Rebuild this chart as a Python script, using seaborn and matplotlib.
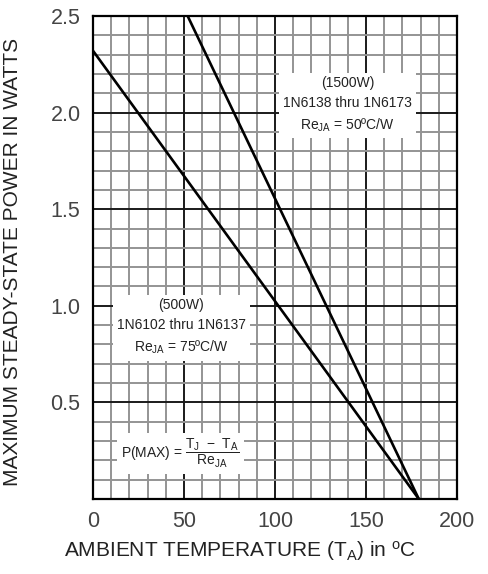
import numpy as np
import pandas as pd
import seaborn as sns
import matplotlib.pyplot as plt
from matplotlib.ticker import MultipleLocator

# values
temp_500w = [0, 179]
power_500w = [2.32, 0.0]
temp_1500w = [52, 179]
power_1500w = [2.5, 0.0]

x_ticks = [0, 50, 100, 150, 200]
y_ticks = [0.5, 1.0, 1.5, 2.0, 2.5]
y_tick_labels = ['0.5', '1.0', '1.5', '2.0', '2.5']

df = pd.concat([
    pd.DataFrame({'temp': temp_500w, 'power': power_500w, 'series': '500W'}),
    pd.DataFrame({'temp': temp_1500w, 'power': power_1500w, 'series': '1500W'}),
])

sns.set_style('white')
plt.rcParams['font.family'] = ['Liberation Sans', 'DejaVu Sans']
plt.rcParams['mathtext.fontset'] = 'custom'
plt.rcParams['mathtext.rm'] = 'Liberation Sans'
plt.rcParams['mathtext.default'] = 'regular'

fig = plt.figure(figsize=(4.88, 5.74), dpi=100)
ax = fig.add_axes([0.1906, 0.1307, 0.7459, 0.8414])

sns.lineplot(data=df, x='temp', y='power', units='series', estimator=None,
             color='black', lw=1.9, ax=ax, legend=False, zorder=3)

ax.set_xlim(0, 200)
ax.set_ylim(0, 2.5)
ax.set_xticks(x_ticks)
ax.set_yticks(y_ticks)
ax.set_yticklabels(y_tick_labels)
ax.xaxis.set_minor_locator(MultipleLocator(10))
ax.yaxis.set_minor_locator(MultipleLocator(0.1))
ax.grid(which='minor', color='#949494', lw=1.4)
ax.grid(which='major', color='#1a1a1a', lw=1.4)
ax.set_axisbelow(True)
ax.tick_params(which='both', length=0, labelsize=15.5, labelcolor='#444444', pad=9)
for s in ax.spines.values():
    s.set_color('black')
    s.set_linewidth(1.6)

ax.set_xlabel('AMBIENT TEMPERATURE (T$_A$) in $^o$C', fontsize=15, color='#222222')
ax.set_ylabel('MAXIMUM STEADY-STATE POWER IN WATTS', fontsize=15, color='#222222')
ax.xaxis.set_label_coords(0.404, -0.083)
ax.yaxis.set_label_coords(-0.196, 0.49)

box = dict(facecolor='white', edgecolor='none', pad=3)
ax.text(140, 2.04, '(1500W)\n1N6138 thru 1N6173\nRe$_{JA}$ = 50ºC/W', ha='center', va='center',
        fontsize=10, linespacing=1.55, color='#222222', bbox=box, zorder=4)
ax.text(48.6, 0.89, '(500W)\n1N6102 thru 1N6137\nRe$_{JA}$ = 75ºC/W', ha='center', va='center',
        fontsize=10, linespacing=1.55, color='#222222', bbox=box, zorder=4)
ax.text(48, 0.235, r'P(MAX) = $\dfrac{T_J\ -\ T_A}{Re_{JA}}$', ha='center', va='center',
        fontsize=10, color='#222222', bbox=box, zorder=4)

fig.savefig('out.png', dpi=100)
